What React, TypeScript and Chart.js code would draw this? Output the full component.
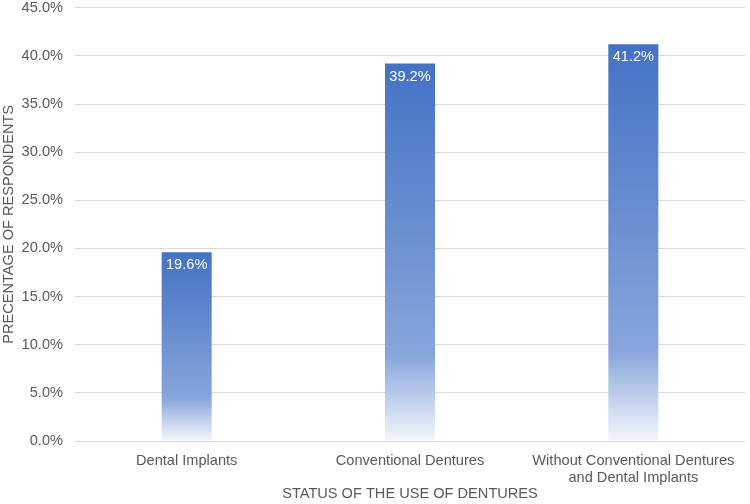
import React, { useEffect, useRef } from "react";
import { Chart, registerables } from "chart.js";

Chart.register(...registerables);

const categories: (string | string[])[] = [
  "Dental Implants",
  "Conventional Dentures",
  ["Without Conventional Dentures", "and Dental Implants"],
];
const percentages = [19.6, 39.2, 41.2];
const yTicks = { min: 0, max: 45, step: 5 };
const yTitle = "PRECENTAGE OF RESPONDENTS";
const xTitle = "STATUS OF THE USE OF DENTURES";

const FONT = "'Liberation Sans', Arial, sans-serif";
const TEXT = "#595959";
const FS = 14.6;
const SHIFT = 13;

const labelPlugin = {
  id: "barLabels",
  afterDatasetsDraw(chart: any) {
    const { ctx } = chart;
    const meta = chart.getDatasetMeta(0);
    ctx.save();
    ctx.fillStyle = "#ffffff";
    ctx.font = `${FS}px ${FONT}`;
    ctx.textAlign = "center";
    ctx.textBaseline = "middle";
    meta.data.forEach((bar: any, i: number) => {
      ctx.fillText(percentages[i].toFixed(1) + "%", bar.x, bar.y + 13);
    });
    ctx.restore();
  },
};

export default function App() {
  const ref = useRef<HTMLCanvasElement>(null);
  useEffect(() => {
    document.body.style.margin = "0";
    const chart = new Chart(ref.current!, {
      type: "bar",
      data: {
        labels: categories as any,
        datasets: [
          {
            data: percentages,
            barPercentage: 0.224,
            categoryPercentage: 1,
            borderWidth: 0,
            backgroundColor: (c: any) => {
              const ch = c.chart;
              if (!ch.chartArea || !ch.scales.y) return "#4472C4";
              const y = ch.scales.y;
              const top = y.getPixelForValue(c.raw);
              const bot = y.getPixelForValue(0);
              const g = ch.ctx.createLinearGradient(0, top, 0, bot);
              g.addColorStop(0, "#4472C4");
              g.addColorStop(0.77, "#86A5DB");
              g.addColorStop(1, "#F4F7FC");
              return g;
            },
          },
        ],
      },
      options: {
        animation: false,
        responsive: true,
        maintainAspectRatio: false,
        layout: { padding: { left: 0, right: 5, top: 0, bottom: 0 } },
        plugins: { legend: { display: false }, tooltip: { enabled: false } },
        scales: {
          x: {
            afterFit: (s: any) => {
              s.height = 63;
            },
            grid: { display: false, drawTicks: false },
            border: { display: true, color: "#d9d9d9" },
            ticks: { color: TEXT, font: { family: FONT, size: FS, lineHeight: 1.15 }, padding: 12, maxRotation: 0, autoSkip: false },
            title: { display: true, text: xTitle, color: TEXT, font: { family: FONT, size: FS }, padding: { top: 0, bottom: 1 } },
          },
          y: {
            afterFit: (s: any) => {
              s.width = 75;
            },
            min: yTicks.min,
            max: yTicks.max,
            grid: { color: "#d9d9d9", drawTicks: false },
            border: { display: false },
            ticks: {
              stepSize: yTicks.step,
              color: TEXT,
              font: { family: FONT, size: FS },
              padding: 12,
              callback: (v: any) => Number(v).toFixed(1) + "%",
            },
            title: { display: true, text: yTitle, color: TEXT, font: { family: FONT, size: FS }, padding: { top: 0, bottom: 2 } },
          },
        },
      },
      plugins: [labelPlugin],
    });
    return () => chart.destroy();
  }, []);
  return (
    <div style={{ width: 750, height: 504, position: "relative", overflow: "hidden" }}>
      <div style={{ position: "absolute", left: 0, top: -SHIFT, width: 750, height: 504 + SHIFT }}>
        <canvas ref={ref} />
      </div>
    </div>
  );
}
